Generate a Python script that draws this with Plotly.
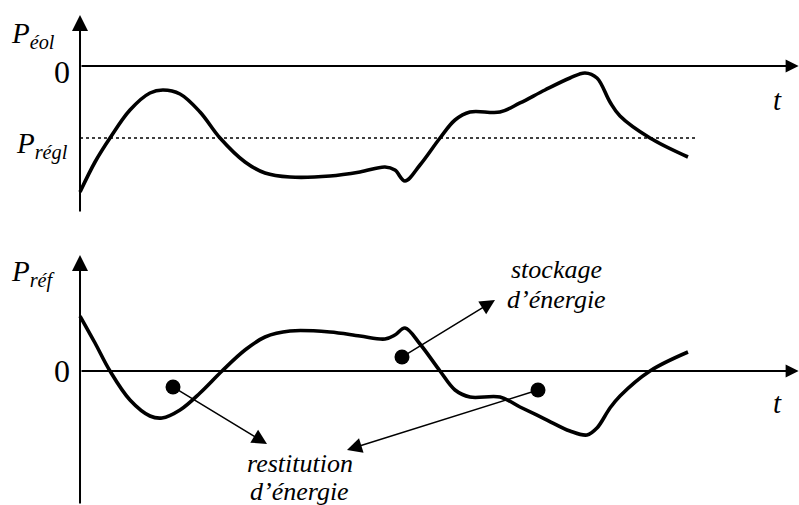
import plotly.graph_objects as go

# ---- data (t in arbitrary time units, P in arbitrary power units) ----
t_top = [0, 0.247, 0.493, 0.822, 1.151, 1.365, 1.645, 1.974, 2.303, 2.714, 3.043, 3.454,
         4.112, 4.605, 5.016, 5.18, 5.345, 5.592, 5.921, 6.168, 6.414, 6.908, 7.237, 7.648,
         8.059, 8.306, 8.503, 8.717, 8.882, 9.375, 10.0]
p_eol = [-4.2, -3.2, -2.4, -1.467, -0.9, -0.8, -0.933, -1.533, -2.4, -3.2, -3.567, -3.7,
         -3.667, -3.533, -3.367, -3.47, -3.833, -3.3, -2.4, -1.8, -1.533, -1.533, -1.233, -0.8,
         -0.4, -0.233, -0.4, -1.2, -1.667, -2.4, -3.033]

t_bot = [0, 0.247, 0.493, 0.822, 1.151, 1.349, 1.645, 1.974, 2.336, 2.714, 3.043, 3.454,
         4.112, 4.605, 5.016, 5.18, 5.345, 5.592, 5.921, 6.168, 6.414, 6.908, 7.237, 7.648,
         8.059, 8.339, 8.503, 8.717, 8.882, 9.375, 10.0]
p_ref = [1.833, 0.933, 0, -0.967, -1.5, -1.567, -1.3, -0.733, 0, 0.7, 1.133, 1.333,
         1.3, 1.167, 1.067, 1.2, 1.433, 0.9, 0, -0.633, -0.867, -0.867, -1.2, -1.6,
         -2.0, -2.133, -1.9, -1.233, -0.833, 0, 0.633]

p_regl = -2.4
t_regl_end = 10.16
t_axis_end = 11.82

# marked points on P_ref and where their arrows point
dot_t = [1.53, 5.296, 7.533]
dot_p = [-0.533, 0.467, -0.633]
tip_t = [3.076, 6.826, 4.391]
tip_p = [-2.433, 2.367, -2.633]

FONT = "Liberation Serif, Times New Roman, Tinos, DejaVu Serif, serif"
fig = go.Figure()

# curves
fig.add_trace(go.Scatter(x=t_top, y=p_eol, mode="lines", line=dict(color="black", width=3.6, shape="spline"),
                         xaxis="x", yaxis="y", hoverinfo="skip"))
fig.add_trace(go.Scatter(x=[0, t_regl_end], y=[p_regl, p_regl], mode="lines",
                         line=dict(color="black", width=1.3, dash="dot"), xaxis="x", yaxis="y", hoverinfo="skip"))
fig.add_trace(go.Scatter(x=t_bot, y=p_ref, mode="lines", line=dict(color="black", width=3.6, shape="spline"),
                         xaxis="x", yaxis="y2", hoverinfo="skip"))
fig.add_trace(go.Scatter(x=dot_t, y=dot_p, mode="markers", marker=dict(color="black", size=15),
                         xaxis="x", yaxis="y2", hoverinfo="skip"))

ann = []
def arrow(x, y, ax, ay, yref, width, size):
    ann.append(dict(x=x, y=y, ax=ax, ay=ay, xref="x", yref=yref, axref="x", ayref=yref,
                    text="", showarrow=True, arrowhead=2, arrowwidth=width, arrowsize=size,
                    arrowcolor="black", standoff=0, startstandoff=0))

# axes
arrow(0, 1.7, 0, -4.9, "y", 2, 1.6)
arrow(t_axis_end, 0, 0, 0, "y", 2, 1.3)
arrow(0, 3.867, 0, -4.467, "y2", 2, 1.6)
arrow(t_axis_end, 0, 0, 0, "y2", 2, 1.3)
# pointers
for i in range(3):
    arrow(tip_t[i], tip_p[i], dot_t[i], dot_p[i], "y2", 1.5, 2.0)

def label(x, y, txt, yref, size, xanchor="center", yanchor="middle"):
    ann.append(dict(x=x, y=y, xref="x", yref=yref, text=txt, showarrow=False,
                    xanchor=xanchor, yanchor=yanchor, font=dict(family=FONT, size=size, color="black")))

label(-0.378, 1.05, "<i>P<sub>éol</sub></i>", "y", 29, xanchor="right")
label(-0.16, -2.65, "<i>P<sub>régl</sub></i>", "y", 29, xanchor="right")
label(-0.378, 3.25, "<i>P<sub>réf</sub></i>", "y2", 29, xanchor="right")
label(-0.29, -0.2, "0", "y", 32)
label(-0.29, 0.0, "0", "y2", 32)
label(11.48, -1.133, "<i>t</i>", "y", 29)
label(11.48, -1.067, "<i>t</i>", "y2", 29)
label(7.845, 3.367, "<i>stockage</i>", "y2", 26)
label(7.845, 2.367, "<i>d’énergie</i>", "y2", 26)
label(3.618, -3.067, "<i>restitution</i>", "y2", 26)
label(3.618, -4.033, "<i>d’énergie</i>", "y2", 26)

fig.update_layout(
    width=799, height=505, autosize=False,
    margin=dict(l=0, r=0, t=0, b=0),
    paper_bgcolor="white", plot_bgcolor="white",
    showlegend=False,
    font=dict(family=FONT),
    xaxis=dict(domain=[0, 1], range=[-1.316, 11.826], visible=False),
    yaxis=dict(domain=[0.54455, 1], range=[-5.4667, 2.2], visible=False),
    yaxis2=dict(domain=[0, 0.52475], range=[-4.4667, 4.3667], visible=False, anchor="x"),
    annotations=ann,
)
fig.write_html("out.html", config={"displayModeBar": False},
               post_script="document.body.style.margin='0';document.body.style.padding='0';")
